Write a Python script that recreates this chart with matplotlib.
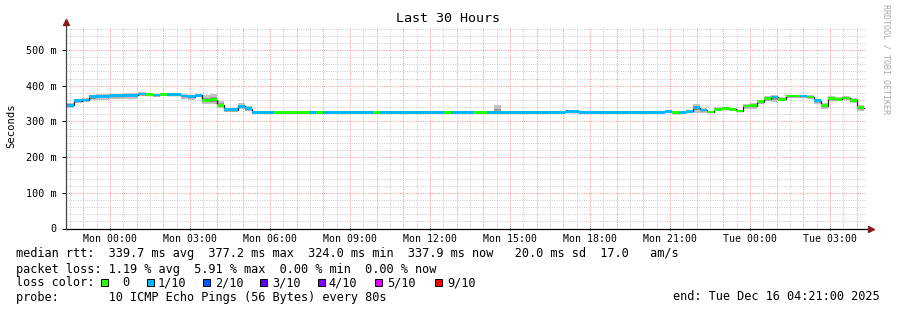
import numpy as np
import matplotlib
matplotlib.use("Agg")
import matplotlib.pyplot as plt
from matplotlib.patches import Rectangle

plt.rcParams["font.family"] = ["DejaVu Sans Mono"]

# hours relative to Mon 00:00, graph spans Sun 22:21 .. Tue 04:21
x_start = -1.65
x_end = 28.35
bin_first = -1.60          # first 16 min consolidation step
bin_hours = 16 / 60

# median rtt per 16 min step (ms)
rtt_median = [
    345, 358, 360, 369, 370, 370, 372, 372, 373, 373,
    377, 375, 374, 376, 375, 375, 371, 369, 373, 359,
    361, 345, 333, 333, 342, 336, 325, 325, 325, 325,
    325, 325, 325, 325, 325, 325, 325, 325, 325, 325,
    325, 325, 325, 325, 325, 325, 325, 325, 325, 325,
    325, 325, 325, 325, 325, 325, 325, 325, 325, 325,
    325, 325, 325, 325, 325, 325, 325, 325, 325, 325,
    327, 327, 325, 325, 325, 325, 325, 325, 325, 325,
    325, 325, 325, 325, 328, 324, 325, 328, 338, 332,
    326, 334, 336, 334, 329, 343, 344, 355, 364, 368,
    362, 371, 371, 371, 368, 358, 344, 364, 362, 366,
    359, 338,
]

# loss class per step: 0 -> 0 lost, 1 -> 1/10 lost
loss_idx = [
    1, 1, 1, 1, 1, 1, 1, 1, 1, 1,
    1, 0, 1, 0, 1, 1, 1, 1, 1, 0,
    0, 0, 1, 1, 1, 1, 1, 1, 1, 0,
    0, 0, 0, 0, 1, 0, 1, 1, 1, 1,
    1, 1, 1, 0, 1, 1, 1, 1, 1, 1,
    1, 1, 1, 0, 1, 1, 1, 0, 0, 1,
    1, 1, 1, 1, 1, 1, 1, 1, 1, 1,
    1, 1, 1, 1, 1, 1, 1, 1, 1, 1,
    1, 1, 1, 1, 1, 0, 1, 1, 1, 1,
    0, 0, 0, 0, 0, 0, 0, 0, 0, 1,
    0, 0, 0, 1, 0, 1, 0, 0, 0, 0,
    0, 0,
]

# smoke spread above / below the median (ms)
smoke_up = [
    6, 6, 6, 6, 6, 6, 6, 6, 6, 6,
    4, 4, 4, 4, 4, 4, 5, 5, 4, 15,
    15, 12, 4, 4, 9, 8, 1, 1, 1, 1,
    1, 1, 1, 1, 1, 1, 1, 1, 1, 1,
    1, 1, 1, 1, 1, 1, 1, 1, 1, 1,
    1, 1, 1, 1, 1, 1, 1, 1, 1, 1,
    20, 1, 1, 1, 1, 1, 1, 1, 1, 1,
    2, 2, 1, 1, 1, 1, 1, 1, 1, 1,
    1, 1, 1, 1, 4, 2, 2, 3, 10, 6,
    3, 5, 5, 4, 3, 7, 7, 6, 7, 6,
    6, 4, 4, 4, 5, 6, 8, 6, 5, 5,
    6, 8,
]
smoke_dn = [
    8, 6, 6, 10, 10, 10, 10, 10, 10, 10,
    5, 5, 5, 5, 5, 5, 8, 8, 5, 11,
    11, 8, 6, 6, 7, 7, 1, 1, 1, 1,
    1, 1, 1, 1, 1, 1, 1, 1, 1, 1,
    1, 1, 1, 1, 1, 1, 1, 1, 1, 1,
    1, 1, 1, 1, 1, 1, 1, 1, 1, 1,
    1, 1, 1, 1, 1, 1, 1, 1, 1, 1,
    1, 1, 1, 1, 1, 1, 1, 1, 1, 1,
    1, 1, 1, 1, 2, 1, 1, 2, 14, 8,
    2, 5, 5, 5, 4, 8, 8, 6, 6, 14,
    6, 6, 6, 5, 6, 8, 8, 6, 5, 6,
    8, 9,
]

loss_labels = ["0", "1/10", "2/10", "3/10", "4/10", "5/10", "9/10"]
loss_colors = ["#26ff00", "#00b8ff", "#0059ff", "#5e00ff", "#7e00ff", "#dd00ff", "#ff0000"]

tick_hours = [0, 3, 6, 9, 12, 15, 18, 21, 24, 27]
tick_labels = ["Mon 00:00", "Mon 03:00", "Mon 06:00", "Mon 09:00", "Mon 12:00",
               "Mon 15:00", "Mon 18:00", "Mon 21:00", "Tue 00:00", "Tue 03:00"]

stats_rtt = "median rtt:  339.7 ms avg  377.2 ms max  324.0 ms min  337.9 ms now   20.0 ms sd  17.0   am/s"
stats_loss = "packet loss: 1.19 % avg  5.91 % max  0.00 % min  0.00 % now"
probe_text = "probe:       10 ICMP Echo Pings (56 Bytes) every 80s"
end_text = "end: Tue Dec 16 04:21:00 2025"

W, H = 897, 310


def fx(px):
    return px / W


def fy(py):
    return 1 - py / H


fig = plt.figure(figsize=(W / 100, H / 100), dpi=100)
fig.patch.set_facecolor("white")
ax = fig.add_axes([fx(66), fy(228.5), 800 / W, (228.5 - 26.8) / H])
ax.set_xlim(x_start, x_end)
ax.set_ylim(0, 565)
for s in ax.spines.values():
    s.set_visible(False)

# grid, rrdtool style dotted
grid_kw = dict(lw=0.72, ls=(0, (1, 1.3)))
for v in range(20, 565, 20):
    if v % 100:
        ax.axhline(v, color="#cbcbcb", zorder=1, **grid_kw)
for h in np.arange(-1.5, x_end, 1.0):
    ax.axvline(h, color="#cbcbcb", zorder=1, **grid_kw)
for v in range(100, 565, 100):
    ax.axhline(v, color="#f09a9a", zorder=1.5, **grid_kw)
for h in range(-1, 29):
    ax.axvline(h, color="#f09a9a", zorder=1.5, **grid_kw)

med = np.array(rtt_median, dtype=float)
up = np.array(smoke_up, dtype=float)
dn = np.array(smoke_dn, dtype=float)
n = len(med)
left = bin_first + bin_hours * np.arange(n)
centers = left + bin_hours / 2

# smoke
ax.bar(centers, up + dn, bottom=med - dn, width=bin_hours, color="#c2c2c2", lw=0, zorder=2)
ax.bar(centers, (up + dn) * 0.5, bottom=med - dn * 0.5, width=bin_hours, color="#9a9a9a", lw=0, zorder=2.5)

# median line + loss coloured band
edges = np.append(left, left[-1] + bin_hours)
ax.step(edges, np.append(med, med[-1]), where="post", color="#202020", lw=0.9, zorder=3)
band = 7.5
cols = [loss_colors[i] for i in loss_idx]
ax.bar(centers, band, bottom=med - band / 2, width=bin_hours, color=cols, lw=0, zorder=4)

# axes lines with arrows
ax.plot([0, 1.005], [0, 0], transform=ax.transAxes, color="black", lw=0.9, clip_on=False, zorder=5)
ax.plot([0, 0], [0, 1.02], transform=ax.transAxes, color="#444444", lw=0.9, clip_on=False, zorder=5)
ax.plot(1.006, 0, marker=">", ms=4, color="#8b1a1a", transform=ax.transAxes, clip_on=False, zorder=6)
ax.plot(0, 1.025, marker="^", ms=4, color="#8b1a1a", transform=ax.transAxes, clip_on=False, zorder=6)

yt = [0, 100, 200, 300, 400, 500]
ax.set_yticks(yt)
ax.set_yticklabels(["0" if v == 0 else f"{v} m" for v in yt])
ax.set_xticks(tick_hours)
ax.set_xticklabels(tick_labels)
ax.tick_params(axis="y", length=3, width=0.7, pad=4, labelsize=7.3)
ax.tick_params(axis="x", length=2, width=0.7, direction="inout", pad=3, labelsize=7.1)

fig.text(fx(11), fy(126), "Seconds", rotation=90, ha="center", va="center", fontsize=7.6)
fig.text(fx(448), fy(19), "Last 30 Hours", ha="center", va="center", fontsize=9.6)
fig.text(fx(886), fy(59), "RRDTOOL / TOBI OETIKER", rotation=270, ha="center", va="center",
         fontsize=6, color="#a8a8a8")

# legend block
fs = 8.55
fig.text(fx(16), fy(254), stats_rtt, ha="left", va="center", fontsize=fs)
fig.text(fx(16), fy(269), stats_loss, ha="left", va="center", fontsize=fs)
fig.text(fx(16), fy(282.5), "loss color:", ha="left", va="center", fontsize=fs)
box_x = [101, 147, 203, 260, 318, 375, 435]
text_x = [122, 158, 215, 272, 328, 387, 447]
for bx, tx, lab, c in zip(box_x, text_x, loss_labels, loss_colors):
    fig.add_artist(Rectangle((fx(bx), fy(285.5)), 7 / W, 7 / H, transform=fig.transFigure,
                             facecolor=c, edgecolor="black", lw=0.7))
    fig.text(fx(tx), fy(282.5), lab, ha="left", va="center", fontsize=fs)
fig.text(fx(16), fy(297), probe_text, ha="left", va="center", fontsize=fs)
fig.text(fx(880), fy(297), end_text, ha="right", va="center", fontsize=fs)

fig.savefig("out.png", dpi=100, facecolor="white")
